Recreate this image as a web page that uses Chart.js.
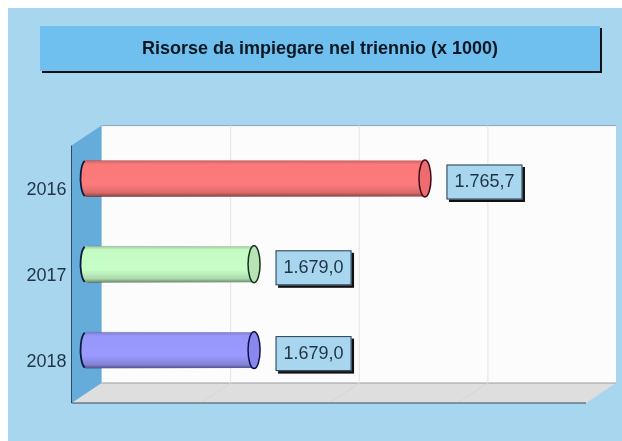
<!DOCTYPE html>
<html><head><meta charset="utf-8">
<style>html,body{margin:0;padding:0;background:#fff}canvas{display:block}</style>
<script src="https://cdn.jsdelivr.net/npm/chart.js@4"></script>
</head><body><canvas id="c" width="622" height="441"></canvas>
<script>
const chartTitle = 'Risorse da impiegare nel triennio (x 1000)';
const categories = ['2016', '2017', '2018'];
const values = [1765.7, 1679.0, 1679.0];
const valueLabels = ['1.765,7', '1.679,0', '1.679,0'];
const barColors = ['#FF7B7B', '#C8FFC8', '#9A9AFF'];
const capColors = ['#EE6C70', '#B8E4B4', '#8A88EE'];
const capLines = ['#3A0A1A', '#12331F', '#10104A'];
const axisMin = 1594, axisMax = 1855, axisStep = 65.25;

const DX = 15, DY = 10;
const FONT = '"Liberation Sans", Arial, sans-serif';

const scene = {
  id: 'scene',
  beforeDraw(chart) {
    const c = chart.ctx, a = chart.chartArea;
    chart.scales.y.left = 0; // tick labels sit left of the layout box
    c.save();
    c.fillStyle = '#fff'; c.fillRect(0, 0, chart.width, chart.height);
    c.fillStyle = '#A8D6EF'; c.fillRect(8, 8, chart.width - 8, chart.height - 8);
    // title panel
    c.fillStyle = '#111'; c.fillRect(42, 28, 560, 45);
    c.fillStyle = '#6FC0EF'; c.fillRect(40, 26, 560, 45);
    // back wall
    const bl = a.left + DX, br = a.right + DX, bt = a.top - DY, bb = a.bottom - DY;
    const fl = a.left - DX, fr = a.right - DX, ft = a.top + DY, fb = a.bottom + DY;
    c.fillStyle = '#FCFCFC'; c.fillRect(bl, bt, br - bl, bb - bt);
    c.strokeStyle = '#8FA3B3'; c.lineWidth = 1;
    c.beginPath(); c.moveTo(bl, bt); c.lineTo(br, bt); c.stroke();
    // floor
    c.fillStyle = '#DEDEDE';
    c.beginPath(); c.moveTo(fl, fb); c.lineTo(bl, bb); c.lineTo(br, bb); c.lineTo(fr, fb); c.closePath(); c.fill();
    c.strokeStyle = '#9AA0A4';
    c.beginPath(); c.moveTo(bl, bb); c.lineTo(br, bb); c.stroke();
    // side wall
    c.fillStyle = '#66ACDA';
    c.beginPath(); c.moveTo(fl, ft); c.lineTo(bl, bt); c.lineTo(bl, bb); c.lineTo(fl, fb); c.closePath(); c.fill();
    // grid lines on wall and floor, from the value scale
    const xs = chart.scales.x;
    xs.ticks.forEach((t, i) => {
      if (i === 0 || i === xs.ticks.length - 1) return;
      const x = xs.getPixelForTick(i);
      c.strokeStyle = '#E4E4E4';
      c.beginPath(); c.moveTo(x + DX + .5, bt); c.lineTo(x + DX + .5, bb); c.stroke();
      c.strokeStyle = '#D6D6D6';
      c.beginPath(); c.moveTo(x + DX + .5, bb); c.lineTo(x - DX + .5, fb); c.stroke();
    });
    // front edges
    c.strokeStyle = '#2F4A5E'; c.lineWidth = 1;
    c.beginPath(); c.moveTo(fl, ft); c.lineTo(fl, fb); c.lineTo(fr, fb); c.stroke();
    c.restore();
  },
  afterDatasetsDraw(chart) {
    const c = chart.ctx;
    chart.getDatasetMeta(0).data.forEach((bar, i) => {
      const p = bar.getProps(['x', 'y', 'base', 'height'], true);
      const h = p.height, top = p.y - h / 2, rx = 6, ry = h / 2 + .5;
      c.save();
      // rounded left end of the tube, overlapping the bar to hide the seam
      c.fillStyle = barColors[i];
      c.beginPath();
      c.ellipse(p.base, p.y, rx, ry, 0, Math.PI / 2, Math.PI * 1.5);
      c.lineTo(p.base + 2, top); c.lineTo(p.base + 2, top + h); c.closePath(); c.fill();
      // tube shading
      const g = c.createLinearGradient(0, top, 0, top + h);
      g.addColorStop(0, 'rgba(0,0,0,.2)');
      g.addColorStop(.1, 'rgba(0,0,0,.02)');
      g.addColorStop(.65, 'rgba(0,0,0,0)');
      g.addColorStop(.9, 'rgba(0,0,0,.15)');
      g.addColorStop(1, 'rgba(0,0,0,.45)');
      c.fillStyle = g;
      c.beginPath();
      c.ellipse(p.base, p.y, rx, ry, 0, Math.PI / 2, Math.PI * 1.5);
      c.lineTo(p.x, top); c.lineTo(p.x, top + h); c.closePath(); c.fill();
      // left outline arc
      c.strokeStyle = '#0E1B3A'; c.lineWidth = 1.8;
      c.beginPath(); c.ellipse(p.base, p.y, rx, ry, 0, Math.PI * .6, Math.PI * 1.4); c.stroke();
      // right cap
      c.fillStyle = capColors[i]; c.strokeStyle = capLines[i]; c.lineWidth = 1.5;
      c.beginPath(); c.ellipse(p.x, p.y, rx, ry, 0, 0, Math.PI * 2); c.fill(); c.stroke();
      // value box
      const bx = p.x + 21.5, bw = 76, bh = 35, by = p.y - 14;
      c.fillStyle = '#111'; c.fillRect(bx + 2.5, by + 2.5, bw, bh);
      c.fillStyle = '#A8D6EF'; c.fillRect(bx, by, bw, bh);
      c.strokeStyle = '#2A3F52'; c.lineWidth = 1; c.strokeRect(bx + .5, by + .5, bw - 1, bh - 1);
      c.fillStyle = '#1F3344'; c.font = '18px ' + FONT;
      c.textAlign = 'center'; c.textBaseline = 'middle';
      c.fillText(valueLabels[i], bx + bw / 2, by + bh / 2 + 0.5);
      c.restore();
    });
  }
};

new Chart(document.getElementById('c'), {
  type: 'bar',
  data: { labels: categories, datasets: [{ data: values, base: axisMin, backgroundColor: barColors, borderWidth: 0, barPercentage: 36 / 86, categoryPercentage: 1 }] },
  plugins: [scene],
  options: {
    indexAxis: 'y', responsive: false, animation: false,
    layout: { padding: { left: 39, right: 21, top: 0, bottom: 48 } },
    plugins: {
      legend: { display: false }, tooltip: { enabled: false },
      title: { display: true, text: chartTitle, color: '#0B1622', font: { family: FONT, size: 18, weight: 'bold', lineHeight: 1.2 }, padding: { top: 38, bottom: 76 } }
    },
    scales: {
      x: { min: axisMin, max: axisMax, grid: { display: false, drawTicks: false }, border: { display: false }, ticks: { display: false, stepSize: axisStep } },
      y: {
        afterFit(s) { s.width = 47.5; },
        grid: { display: false, drawTicks: false }, border: { display: false },
        ticks: { color: '#1F3344', font: { family: FONT, size: 18 }, padding: 20, labelOffset: 12 }
      }
    }
  }
});
</script></body></html>
